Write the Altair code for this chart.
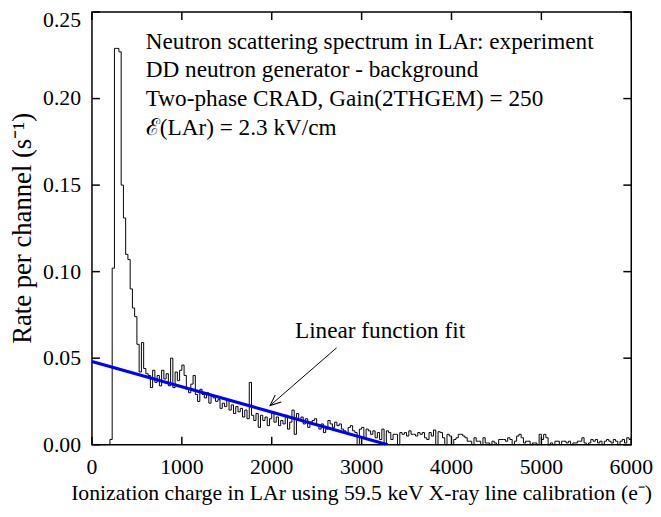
import math
import altair as alt
import pandas as pd

# ---------------- data ----------------
bin_width = 25  # e- per channel
counts = [
    0, 0, 0, 0, 0, 0, 0, 0, 0.003, 0.102,
    0.229, 0.229, 0.227, 0.150, 0.131, 0.110, 0.107, 0.090, 0.079, 0.074,
    0.058, 0.042, 0.059, 0.044, 0.041, 0.040, 0.033, 0.043, 0.036, 0.040,
    0.034, 0.043, 0.038, 0.041, 0.034, 0.050, 0.033, 0.042, 0.037, 0.043,
    0.046, 0.040, 0.032, 0.030, 0.035, 0.040, 0.029, 0.025, 0.032, 0.029,
    0.027, 0.030, 0.024, 0.028, 0.027, 0.025, 0.026, 0.021, 0.024, 0.022,
    0.026, 0.020, 0.023, 0.018, 0.022, 0.019, 0.021, 0.016, 0.020, 0.015,
    0.036, 0.017, 0.014, 0.018, 0.010, 0.017, 0.014, 0.016, 0.011, 0.015,
    0.019, 0.013, 0.016, 0.011, 0.014, 0.012, 0.017, 0.009, 0.013, 0.020,
    0.006, 0.018, 0.014, 0.016, 0.012, 0.015, 0.010, 0.013, 0.014, 0.015,
    0.011, 0.009, 0.012, 0.007, 0.009, 0.014, 0.012, 0.010, 0.013, 0.011,
    0.012, 0.009, 0.008, 0.007, 0.010, 0.011, 0.008, 0.007, 0.000, 0.009,
    0.010, 0.004, 0.009, 0.008, 0.006, 0.008, 0.004, 0.007, 0.003, 0.009,
    0.000, 0.008, 0.007, 0.003, 0.006, 0.006, 0.000, 0.007, 0.006, 0.007,
    0.005, 0.008, 0.006, 0.006, 0.005, 0.007, 0.006, 0.007, 0.004, 0.003,
    0.007, 0.005, 0.0085, 0.000, 0.0075, 0.007, 0.004, 0.000, 0.006, 0.005,
    0.000, 0.003, 0.004, 0.006, 0.006, 0.005, 0.004, 0.002, 0.002, 0.000,
    0.004, 0.002, 0.002, 0.000, 0.004, 0.001, 0.001, 0.000, 0.002, 0.001,
    0.000, 0.003, 0.003, 0.003, 0.002, 0.004, 0.003, 0.000, 0.002, 0.005,
    0.006, 0.004, 0.001, 0.002, 0.002, 0.000, 0.001, 0.001, 0.000, 0.006,
    0.003, 0.006, 0.004, 0.000, 0.001, 0.000, 0.002, 0.002, 0.000, 0.002,
    0.002, 0.001, 0.002, 0.000, 0.001, 0.001, 0.002, 0.002, 0.004, 0.001,
    0.000, 0.001, 0.003, 0.002, 0.003, 0.001, 0.002, 0.000, 0.002, 0.003,
    0.002, 0.001, 0.003, 0.002, 0.000, 0.002, 0.003, 0.001, 0.004, 0.003,
]
x_ticks = [0, 1000, 2000, 3000, 4000, 5000, 6000]
y_ticks = [0.00, 0.05, 0.10, 0.15, 0.20, 0.25]
x_tick_labels = ["0", "1000", "2000", "3000", "4000", "5000", "6000"]
y_tick_labels = ["0.00", "0.05", "0.10", "0.15", "0.20", "0.25"]
fit_x = [0, 3290]
fit_y = [0.0481, 0.0]
info_lines = [
    "Neutron scattering spectrum in LAr: experiment",
    "DD neutron generator - background",
    "Two-phase CRAD, Gain(2THGEM) = 250",
    "\u2130(LAr) = 2.3 kV/cm",
]
fit_label = ["Linear function fit"]
fit_label_pos = [3205, 0.0654]
arrow_tail = [2722, 0.0560]
arrow_tip = [1981, 0.0226]

x_title = "Ionization charge in LAr using 59.5 keV X-ray line calibration (e\u207b)"
y_title = "Rate per channel (s\u207b\u00b9)"

# ---------------- layout / style ----------------
W, H = 546, 438
X_MAX, Y_MAX = 6000, 0.25
FONT = "Liberation Serif"
TICK = 8

xs = alt.Scale(domain=[0, X_MAX], nice=False, zero=False)
ys = alt.Scale(domain=[0, Y_MAX], nice=False, zero=False)


def X(field):
    return alt.X(field, scale=xs, axis=None)


def Y(field):
    return alt.Y(field, scale=ys, axis=None)


edges = [i * bin_width for i in range(len(counts))]
hist_df = pd.DataFrame({"x": edges + [X_MAX], "y": counts + [counts[-1]]})

hist = alt.Chart(hist_df).mark_line(
    interpolate="step-after", color="black", strokeWidth=1
).encode(x=X("x:Q"), y=Y("y:Q"))

fit = alt.Chart(pd.DataFrame({"x": fit_x, "y": fit_y})).mark_line(
    color="#0000ff", strokeWidth=3.2, clip=True
).encode(x=X("x:Q"), y=Y("y:Q"))

xt = pd.DataFrame({"x": x_ticks, "t": x_tick_labels})
yt = pd.DataFrame({"y": y_ticks, "t": y_tick_labels})
tick_bottom = alt.Chart(xt).mark_rule(color="black", strokeWidth=1.5).encode(
    x=X("x:Q"), y=alt.value(H), y2=alt.value(H - TICK))
tick_top = alt.Chart(xt).mark_rule(color="black", strokeWidth=1.5).encode(
    x=X("x:Q"), y=alt.value(0), y2=alt.value(TICK))
tick_left = alt.Chart(yt).mark_rule(color="black", strokeWidth=1.5).encode(
    y=Y("y:Q"), x=alt.value(0), x2=alt.value(TICK))
tick_right = alt.Chart(yt).mark_rule(color="black", strokeWidth=1.5).encode(
    y=Y("y:Q"), x=alt.value(W), x2=alt.value(W - TICK))

# tick labels (drawn as text on the same scales)
x_lab = alt.Chart(xt).mark_text(
    align="center", baseline="top", font=FONT, fontSize=22, color="black"
).encode(x=X("x:Q"), y=alt.value(H + 13), text="t:N")
y_lab = alt.Chart(yt).transform_filter("datum.y < 0.24").mark_text(
    align="right", baseline="middle", font=FONT, fontSize=22, color="black"
).encode(y=Y("y:Q"), x=alt.value(-11), text="t:N")
y_lab_top = alt.Chart(yt).transform_filter("datum.y >= 0.24").mark_text(
    align="right", baseline="middle", font=FONT, fontSize=22, color="black", dy=8
).encode(y=Y("y:Q"), x=alt.value(-11), text="t:N")

x_ttl = alt.Chart(pd.DataFrame({"t": [x_title]})).mark_text(
    align="center", baseline="middle", font=FONT, fontSize=22, color="black"
).encode(x=alt.value(W / 2), y=alt.value(H + 49), text="t:N")
y_ttl = alt.Chart(pd.DataFrame({"t": [y_title]})).mark_text(
    align="center", baseline="middle", font=FONT, fontSize=27, color="black", angle=270
).encode(x=alt.value(-70), y=alt.value(H / 2), text="t:N")

info = alt.Chart(pd.DataFrame({"k": [0]})).mark_text(
    align="left", baseline="top", font=FONT, fontSize=23.5, color="black", lineHeight=29
).encode(x=alt.value(54.5), y=alt.value(18.2), text=alt.value(info_lines))

lbl = alt.Chart(pd.DataFrame({"x": [fit_label_pos[0]], "y": [fit_label_pos[1]], "t": fit_label})).mark_text(
    align="center", baseline="middle", font=FONT, fontSize=23.5, color="black"
).encode(x=X("x:Q"), y=Y("y:Q"), text="t:N")

arrow_df = pd.DataFrame({"x": [arrow_tail[0]], "y": [arrow_tail[1]],
                         "x2": [arrow_tip[0]], "y2": [arrow_tip[1]]})
arrow_line = alt.Chart(arrow_df).mark_rule(color="black", strokeWidth=1).encode(
    x=X("x:Q"), y=Y("y:Q"), x2="x2:Q", y2="y2:Q")

dxp = (arrow_tip[0] - arrow_tail[0]) / X_MAX * W
dyp = -(arrow_tip[1] - arrow_tail[1]) / Y_MAX * H
ang = math.degrees(math.atan2(dyp, dxp)) % 360
head = alt.Chart(pd.DataFrame({"x": [arrow_tip[0]], "y": [arrow_tip[1]]})).mark_point(
    shape="M-1,-0.42L0,0L-1,0.42", filled=False, color="black", strokeWidth=1,
    size=484, angle=ang, opacity=1
).encode(x=X("x:Q"), y=Y("y:Q"))

chart = alt.layer(
    hist, fit, tick_bottom, tick_top, tick_left, tick_right,
    x_lab, y_lab, y_lab_top, x_ttl, y_ttl, info, lbl, arrow_line, head
).properties(
    width=W, height=H,
    autosize=alt.AutoSizeParams(type="none"),
    padding={"left": 85, "top": 1, "right": 22, "bottom": 62},
    background="white",
).configure_view(
    stroke="black", strokeWidth=1.5
)

chart.save("out.html", embed_options={"renderer": "svg", "actions": False})
